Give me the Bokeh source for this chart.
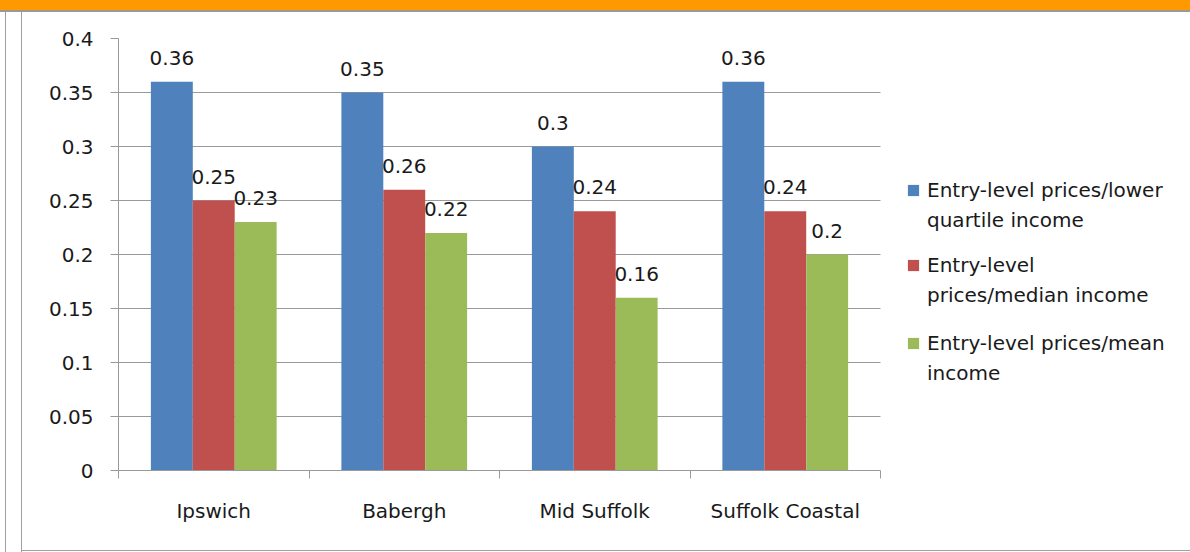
from bokeh.plotting import figure
from bokeh.models import (Range1d, LinearAxis, FixedTicker, Legend,
                          LegendItem, Div, ColumnDataSource)
from bokeh.transform import dodge
from bokeh.layouts import column, row
from bokeh.embed import file_html
from bokeh.resources import INLINE
from bokeh.core.properties import value

categories = ["Ipswich", "Babergh", "Mid Suffolk", "Suffolk Coastal"]
lower_quartile = [0.36, 0.35, 0.30, 0.36]
median_income = [0.25, 0.26, 0.24, 0.24]
mean_income = [0.23, 0.22, 0.16, 0.20]
series_labels = [
    ["Entry-level prices/lower", "quartile income"],
    ["Entry-level", "prices/median income"],
    ["Entry-level prices/mean", "income"],
]
series_colors = ["#4F81BD", "#C0504D", "#9BBB59"]
y_ticks = [0, 0.05, 0.1, 0.15, 0.2, 0.25, 0.3, 0.35, 0.4]
y_tick_labels = ["0", "0.05", "0.1", "0.15", "0.2", "0.25", "0.3", "0.35", "0.4"]

FONT = "DejaVu Sans"
FS = "20px"
TXT = "#1a1a1a"
GRID = "#9a9a9a"

n = len(categories)
centers = [i + 0.5 for i in range(n)]

FIG_W, FIG_H = 1168, 538
LEFT = 96
PLOT_W = 762                      # pixel width of the bar area
FRAME_W = FIG_W - LEFT            # frame extends to the right edge so the legend is not clipped
x_end = n * FRAME_W / PLOT_W

p = figure(x_range=Range1d(0, x_end), y_range=Range1d(0, 0.4),
           width=FIG_W, height=FIG_H, output_backend="svg", toolbar_location=None,
           x_axis_location=None,
           min_border_left=LEFT, min_border_right=0, min_border_top=26, min_border_bottom=80)
p.outline_line_color = None
p.xgrid.grid_line_color = None
p.ygrid.ticker = FixedTicker(ticks=y_ticks)
p.ygrid.grid_line_color = GRID
p.ygrid.cross_bounds = (0, n)
p.background_fill_color = "white"
p.border_fill_color = "white"

yax = p.yaxis[0]
yax.ticker = FixedTicker(ticks=y_ticks)
yax.major_label_overrides = {t: l for t, l in zip(y_ticks, y_tick_labels)}
yax.axis_line_color = GRID
yax.major_tick_line_color = GRID
yax.major_tick_out = 8
yax.major_tick_in = 0
yax.minor_tick_line_color = None
yax.major_label_standoff = 17
yax.major_label_text_font = FONT
yax.major_label_text_font_size = FS
yax.major_label_text_color = TXT

xax = LinearAxis(ticker=FixedTicker(ticks=centers, minor_ticks=list(range(n + 1))), bounds=(0, n))
xax.major_label_overrides = {c: name for c, name in zip(centers, categories)}
xax.axis_line_color = GRID
xax.major_tick_line_color = None
xax.major_tick_out = 0
xax.major_tick_in = 0
xax.minor_tick_line_color = GRID
xax.minor_tick_out = 8
xax.minor_tick_in = 0
xax.major_label_standoff = 20
xax.major_label_text_font = FONT
xax.major_label_text_font_size = FS
xax.major_label_text_color = TXT
p.add_layout(xax, "below")

src = ColumnDataSource(dict(xc=centers, s0=lower_quartile, s1=median_income, s2=mean_income,
                            t0=[f"{v:g}" for v in lower_quartile],
                            t1=[f"{v:g}" for v in median_income],
                            t2=[f"{v:g}" for v in mean_income]))
offsets = [-0.22, 0.0, 0.22]
renderers = []
for i in range(3):
    r = p.vbar(x=dodge("xc", offsets[i]), top=f"s{i}", width=0.22,
               source=src, fill_color=series_colors[i], line_color=None)
    renderers.append(r)
    p.text(x=dodge("xc", offsets[i]), y=f"s{i}", text=f"t{i}", source=src,
           text_align="center", text_baseline="middle", y_offset=-24,
           text_font=value(FONT), text_font_size=FS, text_color=TXT)

legend_y = [235, 160, 82]
for i in range(3):
    lg = Legend(items=[LegendItem(label=series_labels[i][0], renderers=[renderers[i]]),
                       LegendItem(label=series_labels[i][1], renderers=[])],
                location=(788, legend_y[i]), orientation="vertical",
                glyph_width=14, glyph_height=14, label_standoff=7,
                label_height=30, spacing=0, padding=0, margin=0,
                label_text_font=FONT, label_text_font_size=FS, label_text_color=TXT,
                border_line_color=None, background_fill_alpha=0)
    p.add_layout(lg, "center")

top_band = Div(width=1190, height=12, margin=0,
               styles={"background": "linear-gradient(to bottom, #FF9900 0px, #FF9900 10px, #999999 10px, #999999 12px)"})
left_band = Div(width=22, height=540, margin=0,
                styles={"background": "linear-gradient(to right, white 0px, white 5px, #a0a0a0 5px, #a0a0a0 6px, white 6px, white 21px, #a0a0a0 21px, #a0a0a0 22px)"})
bottom_line = Div(width=1168, height=2, margin=0,
                  styles={"background": "linear-gradient(to bottom, #a0a0a0 0px, #a0a0a0 1px, white 1px)"})
layout = column(top_band, row(left_band, column(p, bottom_line, spacing=0), spacing=0), spacing=0)

open("out.html", "w").write(file_html(layout, INLINE))
